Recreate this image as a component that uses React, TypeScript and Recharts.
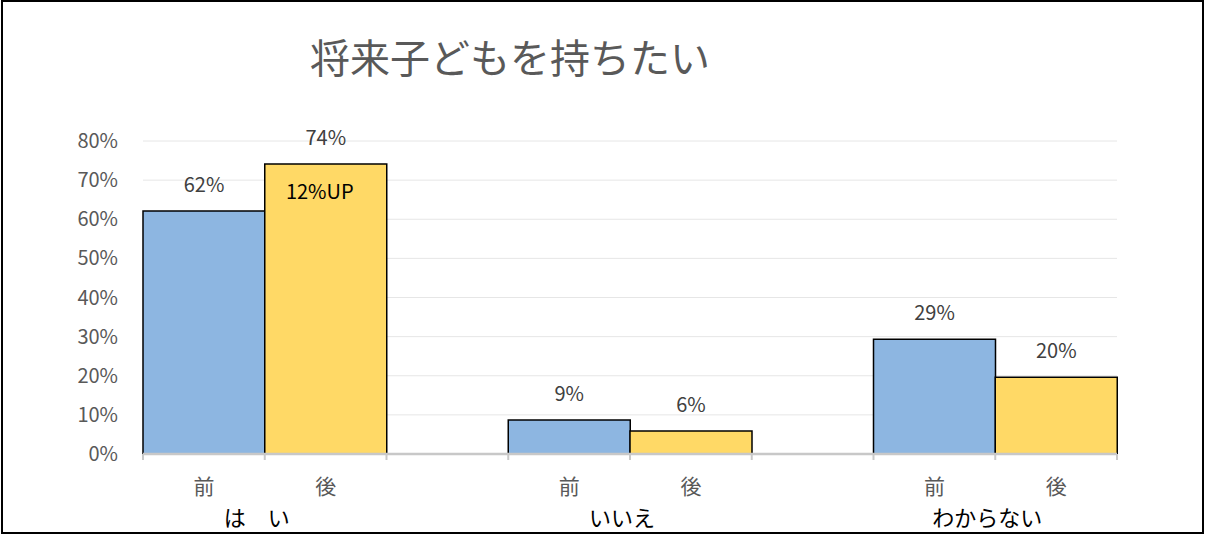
import { BarChart, Bar, XAxis, YAxis, CartesianGrid, LabelList, Cell } from 'recharts';

const title = '将来子どもを持ちたい';
const groups = ['は　い', 'いいえ', 'わからない'];
const phases = ['前', '後'];
const before = [62.1, 8.7, 29.3];
const after = [74.1, 5.9, 19.6];
const notes = ['12%UP', '', ''];
const yTicks = [0, 10, 20, 30, 40, 50, 60, 70, 80];

const W = 1206;
const H = 535;
const margin = { top: 141, right: 89, bottom: 0, left: 0 };
const yAxisWidth = 143;
const xAxisHeight = 81;
const font = '"Noto Sans CJK JP", "Noto Sans", sans-serif';

// Excel-style layout: 前, 後, (blank), 前, 後, (blank), 前, 後
type Slot = { key: string; phase: string; group: string; value: number | null; note: string; color: string };
const slots: Slot[] = [];
groups.forEach((g, i) => {
    if (i > 0) slots.push({ key: `gap${i}`, phase: '', group: '', value: null, note: '', color: 'none' });
    slots.push({ key: `b${i}`, phase: phases[0], group: g, value: before[i], note: '', color: '#8DB6E1' });
    slots.push({ key: `a${i}`, phase: phases[1], group: '', value: after[i], note: notes[i], color: '#FFD966' });
});

const slotWidth = (W - margin.left - margin.right - yAxisWidth) / slots.length;

function SlotTick(props: any) {
    const { x, y, index } = props;
    const s = slots[index];
    if (!s) return null;
    const left = x - slotWidth / 2;
    const right = x + slotWidth / 2;
    return (
        <g>
            <line x1={left} y1={y} x2={left} y2={y + 6} stroke="#c8c8c8" strokeWidth={2} />
            {index === slots.length - 1 && (
                <line x1={right} y1={y} x2={right} y2={y + 6} stroke="#c8c8c8" strokeWidth={2} />
            )}
            {s.phase && (
                <text x={x} y={y + 40} textAnchor="middle" fontSize={21} fill="#595959">
                    {s.phase}
                </text>
            )}
            {s.group && (
                <text x={right - 8} y={y + 72} textAnchor="middle" fontSize={22} fill="#000000">
                    {s.group}
                </text>
            )}
        </g>
    );
}

export default function App() {
    return (
        <div style={{ position: 'absolute', left: 0, top: 0, width: W, height: H, background: '#fff', fontFamily: font }}>
            <div
                style={{
                    position: 'absolute',
                    left: 0,
                    top: 36,
                    width: 1020,
                    textAlign: 'center',
                    fontSize: 40,
                    lineHeight: '40px',
                    color: '#595959'
                }}
            >
                {title}
            </div>
            <BarChart width={W} height={H} data={slots} margin={margin} barCategoryGap={0}>
                <CartesianGrid vertical={false} stroke="#e6e6e6" />
                <XAxis
                    dataKey="key"
                    interval={0}
                    height={xAxisHeight}
                    tickSize={0}
                    tickMargin={0}
                    tickLine={false}
                    axisLine={{ stroke: '#c8c8c8', strokeWidth: 2.5 }}
                    tick={<SlotTick />}
                />
                <YAxis
                    width={yAxisWidth}
                    domain={[0, 80]}
                    ticks={yTicks}
                    tickFormatter={(v: number) => `${v}%`}
                    axisLine={false}
                    tickLine={false}
                    tickMargin={19}
                    tick={{ fontSize: 20, fill: '#595959' }}
                />
                <Bar dataKey="value" stroke="#000" strokeWidth={1.5} isAnimationActive={false}>
                    {slots.map((s) => (
                        <Cell key={s.key} fill={s.color} />
                    ))}
                    <LabelList
                        dataKey="value"
                        position="top"
                        offset={19}
                        fontSize={20}
                        fill="#404040"
                        formatter={(v: any) => (v == null ? '' : `${Math.round(v)}%`)}
                    />
                    <LabelList
                        dataKey="note"
                        position="insideTop"
                        offset={21}
                        dx={-6}
                        fontSize={20}
                        fill="#000"
                    />
                </Bar>
            </BarChart>
            <div
                style={{
                    position: 'absolute',
                    left: 1,
                    top: 0,
                    width: 1203,
                    height: 534,
                    border: '2px solid #000',
                    boxSizing: 'border-box',
                    pointerEvents: 'none'
                }}
            />
        </div>
    );
}
